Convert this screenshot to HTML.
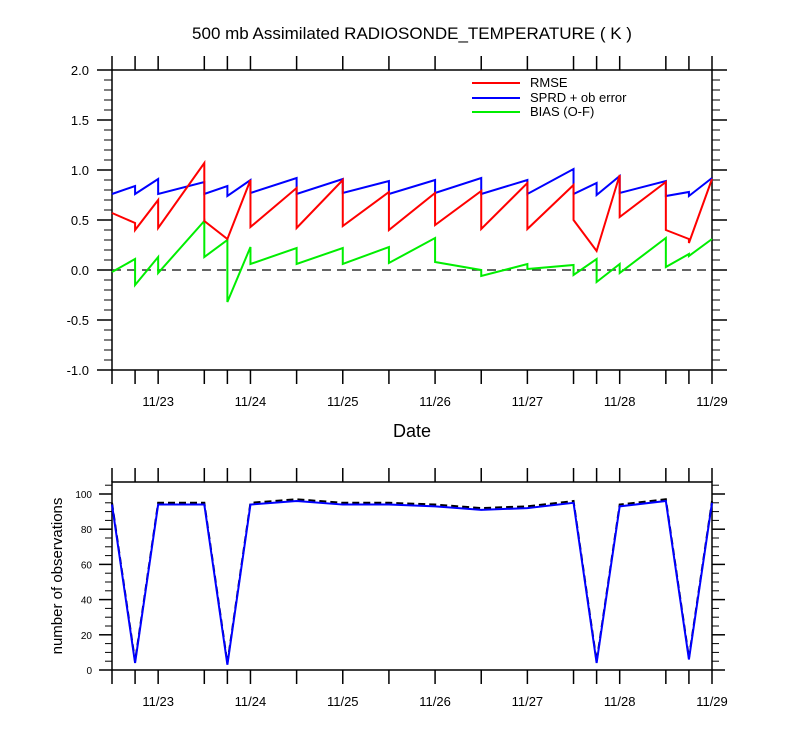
<!DOCTYPE html>
<html><head><meta charset="utf-8"><style>
html,body{margin:0;padding:0;background:#fff;}
svg{display:block;font-family:"Liberation Sans",sans-serif;}
</style></head><body>
<svg id="c" width="800" height="750">
<text x="412" y="39" text-anchor="middle" font-size="17">500 mb Assimilated RADIOSONDE_TEMPERATURE ( K )</text>
<text x="412" y="437" text-anchor="middle" font-size="18">Date</text>
<text transform="translate(62,576) rotate(-90)" text-anchor="middle" font-size="15">number of observations</text>
<g>
<line x1="472" y1="83" x2="520" y2="83" stroke="#f00" stroke-width="2"/><text x="530" y="87" font-size="13">RMSE</text>
<line x1="472" y1="98" x2="520" y2="98" stroke="#00f" stroke-width="2"/><text x="530" y="102" font-size="13">SPRD + ob error</text>
<line x1="472" y1="112" x2="520" y2="112" stroke="#0e0" stroke-width="2"/><text x="530" y="116" font-size="13">BIAS (O-F)</text>
</g>
</svg>
<script>
// interval times (days of November)
const times=[22.5,22.75,23.0,23.5,23.75,24.0,24.5,25.0,25.5,26.0,26.5,27.0,27.5,27.75,28.0,28.5,28.75,29.0];
// per-interval start/end values (interval i: times[i] -> times[i+1])
const rmseStart=[0.57,0.40,0.42,0.49,0.31,0.43,0.42,0.44,0.40,0.45,0.41,0.41,0.50,0.19,0.53,0.40,0.27];
const rmseEnd  =[0.47,0.70,1.07,0.31,0.90,0.82,0.90,0.78,0.77,0.79,0.87,0.85,0.19,0.95,0.88,0.31,0.91];
const sprdStart=[0.76,0.76,0.76,0.76,0.74,0.77,0.76,0.77,0.76,0.77,0.76,0.76,0.76,0.75,0.77,0.74,0.74];
const sprdEnd  =[0.84,0.91,0.88,0.84,0.90,0.92,0.91,0.89,0.90,0.92,0.90,1.01,0.87,0.94,0.89,0.78,0.92];
const biasStart=[-0.02,-0.15,-0.03,0.13,-0.32,0.06,0.06,0.06,0.07,0.08,-0.06,0.01,-0.05,-0.12,-0.03,0.03,0.14];
const biasEnd  =[0.11,0.13,0.49,0.30,0.23,0.22,0.22,0.23,0.32,0.00,0.06,0.05,0.11,0.06,0.32,0.16,0.31];
// observation counts
const obsUsed=[94,4,94,94,3,94,96,94,94,93,91,92,95,4,93,96,6,95];
const obsTotal=[95,5,95,95,4,95,97,95,95,94,92,93,96,5,94,97,7,96];
const dayTicks=[23,24,25,26,27,28,29];
const dayLabels=["11/23","11/24","11/25","11/26","11/27","11/28","11/29"];
const topTicks=[2.0,1.5,1.0,0.5,0.0,-0.5,-1.0];
const topLabels=["2.0","1.5","1.0","0.5","0.0","-0.5","-1.0"];
const botTicks=[0,20,40,60,80,100];

const svg=document.getElementById('c');
const NS='http://www.w3.org/2000/svg';
function mk(t,a,p){const e=document.createElementNS(NS,t);for(const k in a)e.setAttribute(k,a[k]);(p||svg).appendChild(e);return e;}
const X0=112,X1=712;
const xs=t=>X0+(t-22.5)/6.5*(X1-X0);
const yt=v=>270-v*100;
const TB=370,TT=70;
const yb=v=>670-v*1.76;
const BT=482,BB=670;

function frame(top,bot,name){
  const r=mk('rect',{x:X0,y:top,width:X1-X0,height:bot-top,fill:'none',stroke:'#000','stroke-width':1.5});
  
  
  times.forEach(t=>{
    const x=xs(t);
    mk('line',{x1:x,y1:top,x2:x,y2:top-14,stroke:'#000','stroke-width':1.5});
    mk('line',{x1:x,y1:bot,x2:x,y2:bot+14,stroke:'#000','stroke-width':1.5});
  });
  dayTicks.forEach((d,i)=>{
    const t=mk('text',{x:xs(d),y:bot+36,'text-anchor':'middle','font-size':13});
    t.textContent=dayLabels[i];
    
    
  });
}
// top panel
frame(TT,TB,'top-plot-area');
for(let v=-1.0;v<=2.0001;v+=0.1){
  const y=yt(v);const maj=Math.abs(v*2-Math.round(v*2))<1e-6;
  const L=maj?15:8;
  mk('line',{x1:X0,y1:y,x2:X0-L,y2:y,stroke:'#000','stroke-width':maj?1.5:1});
  mk('line',{x1:X1,y1:y,x2:X1+L,y2:y,stroke:'#000','stroke-width':maj?1.5:1});
}
topTicks.forEach((v,i)=>{
  const t=mk('text',{x:89,y:yt(v)+5,'text-anchor':'end','font-size':13});
  t.textContent=topLabels[i];
  
  
});
const zl=mk('line',{x1:X0,y1:yt(0),x2:X1,y2:yt(0),stroke:'#333','stroke-width':1.5,'stroke-dasharray':'9,6'});


function saw(st,en,col,name){
  const pts=[];
  for(let i=0;i<st.length;i++){pts.push([xs(times[i]),yt(st[i])]);pts.push([xs(times[i+1]),yt(en[i])]);}
  const p=mk('polyline',{points:pts.map(p=>p.join(',')).join(' '),fill:'none',stroke:col,'stroke-width':2,'stroke-linejoin':'miter'});
  
  
}
saw(sprdStart,sprdEnd,'#00f','sprd-line');
saw(biasStart,biasEnd,'#0e0','bias-line');
saw(rmseStart,rmseEnd,'#f00','rmse-line');

// bottom panel
frame(BT,BB,'bottom-plot-area');
for(let v=0;v<=105;v+=5){
  const y=yb(v);const maj=v%20==0;const L=maj?13:7;
  mk('line',{x1:X0,y1:y,x2:X0-L,y2:y,stroke:'#000','stroke-width':maj?1.5:1});
  mk('line',{x1:X1,y1:y,x2:X1+L,y2:y,stroke:'#000','stroke-width':maj?1.5:1});
}
botTicks.forEach(v=>{
  const t=mk('text',{x:92,y:yb(v)+4,'text-anchor':'end','font-size':10});
  t.textContent=String(v);
  
  
});
const p1=mk('polyline',{points:times.map((t,i)=>xs(t)+','+yb(obsTotal[i])).join(' '),fill:'none',stroke:'#000','stroke-width':2,'stroke-dasharray':'7,4'});


const p2=mk('polyline',{points:times.map((t,i)=>xs(t)+','+yb(obsUsed[i])).join(' '),fill:'none',stroke:'#00f','stroke-width':2});


</script>
</body></html>
